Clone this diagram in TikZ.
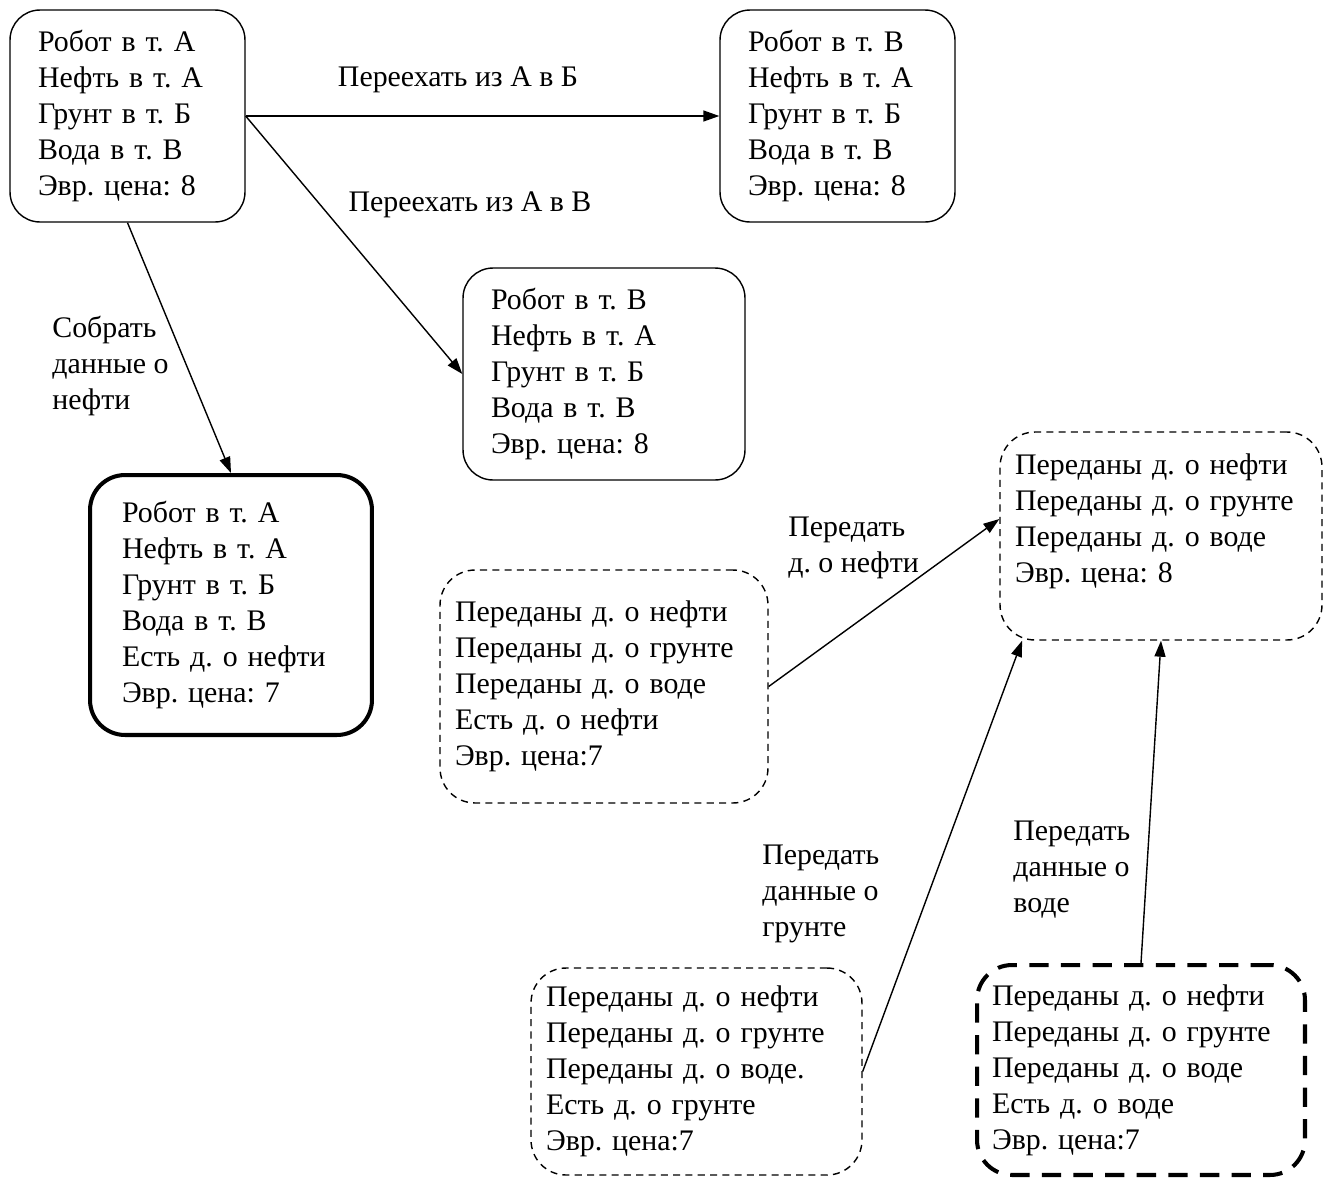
\documentclass[tikz,border=0pt]{standalone}
\usepackage{fontspec}
\setmainfont{Liberation Serif}
\usetikzlibrary{arrows.meta}
\newcommand{\statefont}{\fontsize{17pt}{20.5pt}\selectfont}
\frenchspacing

\begin{document}
\begin{tikzpicture}[
  x=0.02cm, y=-0.02cm,
  state/.style={rectangle, draw, line width=0.8pt, rounded corners=0.6cm, align=left, inner xsep=0.56cm, font=\statefont},
  heavy/.style={state, line width=2.3pt, rounded corners=0.7cm, inner xsep=0.64cm},
  sent/.style={state, dash pattern=on 4pt off 3pt, rounded corners=0.7cm, inner xsep=0.3cm},
  sentheavy/.style={sent, line width=2.3pt, dash pattern=on 11pt off 7pt},
  arrow/.style={-{Triangle[length=0.32cm, width=0.22cm]}, line width=0.8pt},
  label/.style={font=\statefont, align=left, inner sep=0pt, anchor=west},
]
\useasboundingbox (0,0) rectangle (1332,1177);

% === Start and moves ===
\node[state, minimum width=4.7cm, minimum height=4.24cm, text width=3.58cm] (start) at (127.5,116)
  {Робот в т. А\\Нефть в т. А\\Грунт в т. Б\\Вода в т. В\\Эвр. цена: 8};
\node[state, minimum width=4.7cm, minimum height=4.24cm, text width=3.58cm] (moveB) at (837.5,116)
  {Робот в т. В\\Нефть в т. А\\Грунт в т. Б\\Вода в т. В\\Эвр. цена: 8};
\node[state, minimum width=5.64cm, minimum height=4.24cm, text width=4.52cm] (moveV) at (604,374)
  {Робот в т. В\\Нефть в т. А\\Грунт в т. Б\\Вода в т. В\\Эвр. цена: 8};
\node[heavy, minimum width=5.64cm, minimum height=5.2cm, text width=4.36cm] (collect) at (231,605)
  {Робот в т. А\\Нефть в т. А\\Грунт в т. Б\\Вода в т. В\\Есть д. о нефти\\Эвр. цена: 7};

% === Sending data ===
\node[sent, minimum width=6.56cm, minimum height=4.66cm, text width=5.96cm] (oil) at (604,686.5)
  {Переданы д. о нефти\\Переданы д. о грунте\\Переданы д. о воде\\Есть д. о нефти\\Эвр. цена:7};
\node[sent, minimum width=6.44cm, minimum height=4.16cm, text width=5.84cm] (goal) at (1161,536)
  {Переданы д. о нефти\\Переданы д. о грунте\\Переданы д. о воде\\Эвр. цена: 8\\ \mbox{}};
\node[sent, minimum width=6.62cm, minimum height=4.14cm, text width=6.02cm] (soil) at (696.5,1071.5)
  {Переданы д. о нефти\\Переданы д. о грунте\\Переданы д. о воде.\\Есть д. о грунте\\Эвр. цена:7};
\node[sentheavy, minimum width=6.56cm, minimum height=4.2cm, text width=5.96cm] (water) at (1141,1070)
  {Переданы д. о нефти\\Переданы д. о грунте\\Переданы д. о воде\\Есть д. о воде\\Эвр. цена:7};

% === Arrows ===
\draw[arrow] (start.east) -- (moveB.west);
\draw[arrow] (start.east) -- (moveV.west);
\draw[arrow] (start.south) -- (collect.north);
\draw[arrow] (oil.east) -- (goal.174);
\draw[arrow] (soil.east) -- (goal.217);
\draw[arrow] (water.north) -- (goal.south);

% === Labels ===
\node[label, anchor=center] (lblB) at (458,80) {Переехать из А в Б};
\node[label, anchor=center] (lblV) at (470,205) {Переехать из А в В};
\node[label] (lblcollect) at (52,366) {Собрать\\данные о\\нефти};
\node[label] (lbloil) at (788,548) {Передать\\д. о нефти};
\node[label] (lblsoil) at (762,894) {Передать\\данные о\\грунте};
\node[label] (lblwater) at (1013,870) {Передать\\данные о\\воде};

\end{tikzpicture}
\end{document}
